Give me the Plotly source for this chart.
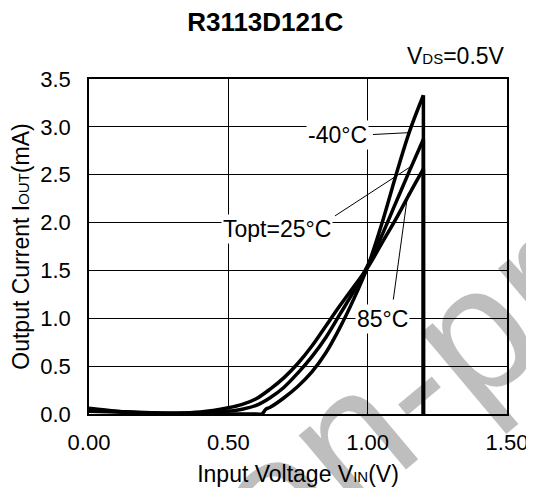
import plotly.graph_objects as go

# ---- data ----
x_m40 = [0.0, 0.1, 0.2, 0.3, 0.4, 0.5, 0.6, 0.62, 0.635, 0.65, 0.7, 0.75, 0.8, 0.85, 0.9, 0.95, 1.0, 1.05, 1.1, 1.15, 1.2]
y_m40 = [0.03, 0.02, 0.01, 0.0, 0.0, 0.0, 0.0, 0.0, 0.05, 0.07, 0.17, 0.29, 0.44, 0.64, 0.90, 1.20, 1.54, 1.98, 2.48, 2.95, 3.33]

x_25 = [0.0, 0.1, 0.2, 0.3, 0.4, 0.5, 0.55, 0.6, 0.65, 0.7, 0.75, 0.8, 0.85, 0.9, 0.95, 1.0, 1.05, 1.1, 1.15, 1.2]
y_25 = [0.04, 0.025, 0.01, 0.005, 0.01, 0.03, 0.05, 0.09, 0.17, 0.28, 0.43, 0.60, 0.80, 1.04, 1.28, 1.55, 1.86, 2.20, 2.54, 2.87]

x_85 = [0.0, 0.1, 0.2, 0.3, 0.4, 0.5, 0.55, 0.6, 0.65, 0.7, 0.75, 0.8, 0.85, 0.9, 0.95, 1.0, 1.05, 1.1, 1.15, 1.2]
y_85 = [0.06, 0.03, 0.015, 0.01, 0.02, 0.065, 0.10, 0.16, 0.26, 0.38, 0.53, 0.71, 0.92, 1.13, 1.33, 1.53, 1.78, 2.03, 2.30, 2.56]

cutoff_v = 1.2  # VIN where all curves drop to zero

x_ticks = [0.0, 0.5, 1.0, 1.5]
y_ticks = [0.0, 0.5, 1.0, 1.5, 2.0, 2.5, 3.0, 3.5]

labels = ["-40°C", "Topt=25°C", "85°C"]
label_pos = [(0.89, 2.92), (0.675, 1.93), (1.055, 0.99)]
leader_from = [(1.019, 2.92), (0.883, 2.07), (1.092, 1.195)]
leader_to = [(1.152, 2.94), (1.152, 2.58), (1.144, 2.30)]

FONT = "Liberation Sans, Arial, sans-serif"

fig = go.Figure()
for xs, ys in [(x_m40, y_m40), (x_25, y_25), (x_85, y_85)]:
    fig.add_trace(go.Scatter(x=xs, y=ys, mode="lines",
                             line=dict(color="black", width=3.5, shape="spline", smoothing=1.0),
                             showlegend=False, hoverinfo="skip"))
    fig.add_trace(go.Scatter(x=[cutoff_v, cutoff_v], y=[ys[-1], 0], mode="lines",
                             line=dict(color="black", width=3.5),
                             showlegend=False, hoverinfo="skip"))

for (x0, y0), (x1, y1) in zip(leader_from, leader_to):
    fig.add_shape(type="line", x0=x0, y0=y0, x1=x1, y1=y1, xref="x", yref="y",
                  line=dict(color="black", width=1))

for txt, (lx, ly) in zip(labels, label_pos):
    fig.add_annotation(x=lx, y=ly, xref="x", yref="y", text=txt, showarrow=False,
                       bgcolor="white", borderpad=1,
                       font=dict(family=FONT, size=23, color="black"))

fig.add_annotation(x=1.0, y=1.0, xref="paper", yref="paper", yshift=8,
                   text="V<span style='font-size:15px'>DS</span>=0.5V",
                   showarrow=False, xanchor="right", yanchor="bottom",
                   font=dict(family=FONT, size=23, color="black"))

# watermark
fig.add_annotation(x=1.199, y=0.538, xref="paper", yref="paper", text="Non-promotion",
                   showarrow=False, textangle=-40, opacity=0.25,
                   xanchor="center", yanchor="middle",
                   font=dict(family=FONT, size=180, color="black"))

axis_common = dict(showgrid=True, gridcolor="black", gridwidth=1,
                   showline=True, linecolor="black", linewidth=1.5, mirror=True,
                   ticks="outside", tickcolor="rgba(0,0,0,0)", zeroline=False,
                   tickfont=dict(family=FONT, size=22, color="black"))

fig.update_xaxes(range=[0, 1.5], tickvals=x_ticks, tickformat=".2f", ticklen=8,
                 title=dict(text="Input Voltage V<span style='font-size:15px'>IN</span>(V)",
                            font=dict(family=FONT, size=23, color="black"), standoff=12),
                 **axis_common)
fig.update_yaxes(range=[0, 3.5], tickvals=y_ticks, tickformat=".1f", ticklen=12,
                 title=dict(text="Output Current I<span style='font-size:15px'>OUT</span>(mA)",
                            font=dict(family=FONT, size=23, color="black"), standoff=4),
                 **axis_common)

fig.update_layout(
    width=526, height=480,
    margin=dict(l=81, r=27, t=71, b=74, autoexpand=False),
    paper_bgcolor="white", plot_bgcolor="white",
    title=dict(text="<b>R3113D121C</b>", x=0.489, xanchor="center", y=0.971, yanchor="middle",
               font=dict(family=FONT, size=26, color="black")),
)

fig.write_html("out.html")
